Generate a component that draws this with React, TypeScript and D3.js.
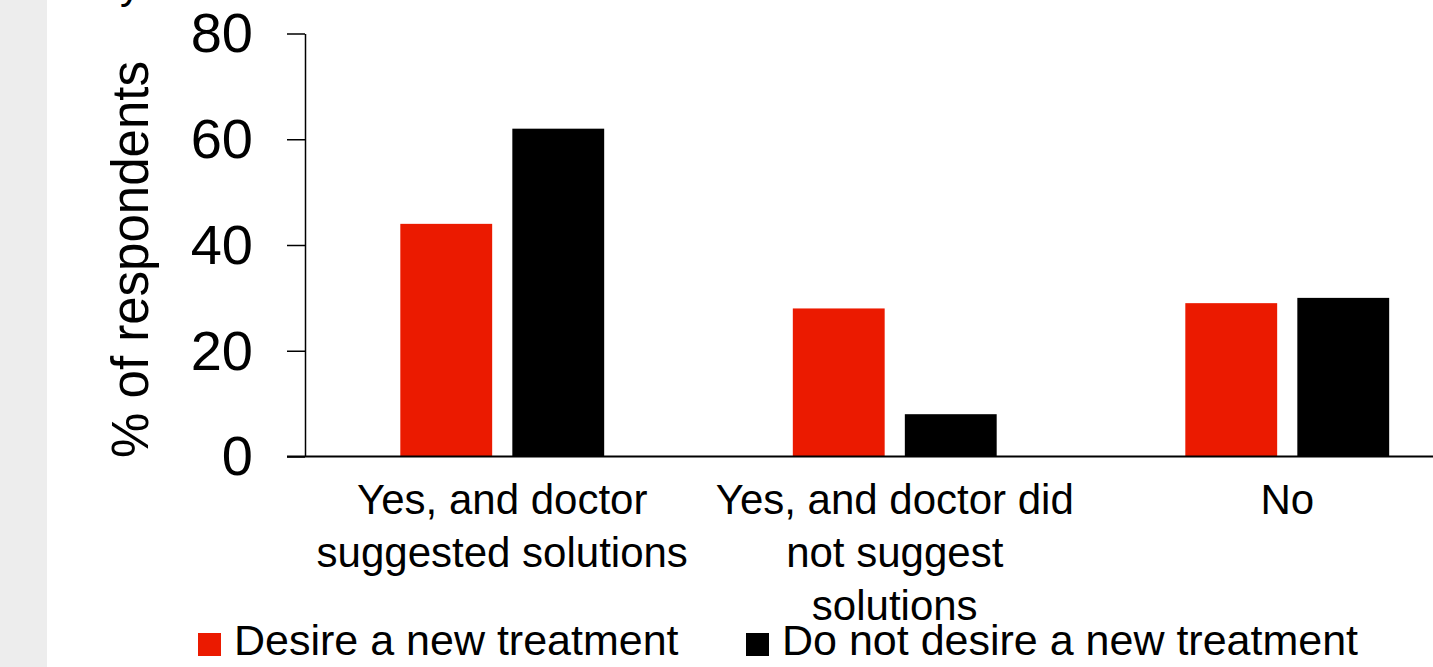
import React, { useEffect, useRef } from 'react';
import * as d3 from 'd3';

// chart data
const categories = [
  'Yes, and doctor suggested solutions',
  'Yes, and doctor did not suggest solutions',
  'No',
];
const categoryLines = [
  ['Yes, and doctor', 'suggested solutions'],
  ['Yes, and doctor did', 'not suggest', 'solutions'],
  ['No'],
];
const seriesNames = ['Desire a new treatment', 'Do not desire a new treatment'];
const desireValues = [44, 28, 29];
const noDesireValues = [62, 8, 30];
const yTicks = [0, 20, 40, 60, 80];

const colors = ['#eb1a00', '#000000'];
const FONT = '"Liberation Sans", Arial, sans-serif';

function App() {
  const ref = useRef<SVGSVGElement>(null);

  useEffect(() => {
    if (!ref.current) return;
    const svg = d3.select(ref.current);
    svg.selectAll('*').remove();

    const W = 1433;
    const H = 667;

    // background + grey strip on the left
    svg.append('rect').attr('width', W).attr('height', H).attr('fill', '#ffffff');
    svg.append('rect').attr('width', 47).attr('height', H).attr('fill', '#ededed');

    const x0 = d3.scaleBand<string>().domain(categories).range([306, 1483.5]).padding(0);
    const x1 = d3
      .scaleBand<string>()
      .domain(seriesNames)
      .range([0, x0.bandwidth()])
      .paddingInner(0.18)
      .paddingOuter(0.842);
    const y = d3.scaleLinear().domain([0, 80]).range([456.5, 33.5]);

    // cropped title remnant at the very top
    svg
      .append('text')
      .attr('x', 120)
      .attr('y', -2)
      .style('font-family', FONT)
      .style('font-size', '42px')
      .text('y');

    // bars
    const rows = categories.map((c, i) => ({
      cat: c,
      vals: [desireValues[i], noDesireValues[i]],
    }));
    const groups = svg
      .append('g')
      .selectAll('g')
      .data(rows)
      .enter()
      .append('g')
      .attr('transform', (d) => `translate(${x0(d.cat)},0)`);
    groups
      .selectAll('rect')
      .data((d) => d.vals.map((v, j) => ({ v, s: seriesNames[j], j })))
      .enter()
      .append('rect')
      .attr('x', (d) => x1(d.s)!)
      .attr('width', x1.bandwidth())
      .attr('y', (d) => y(d.v))
      .attr('height', (d) => y(0) - y(d.v))
      .attr('fill', (d) => colors[d.j]);

    // y axis
    const yAxis = svg
      .append('g')
      .attr('transform', 'translate(305,0)')
      .call(d3.axisLeft(y).tickValues(yTicks).tickSize(18).tickPadding(34).tickSizeOuter(0));
    yAxis.select('.domain').attr('stroke', '#000').attr('stroke-width', 1.5);
    yAxis.selectAll('.tick line').attr('stroke', '#000').attr('stroke-width', 1.5);
    yAxis
      .selectAll('.tick text')
      .style('font-family', FONT)
      .style('font-size', '56px')
      .attr('fill', '#000')
      .attr('dy', '0.33em');

    // x axis line
    svg
      .append('line')
      .attr('x1', 287)
      .attr('x2', W)
      .attr('y1', y(0))
      .attr('y2', y(0))
      .attr('stroke', '#000')
      .attr('stroke-width', 2);

    // category labels
    const labels = svg
      .append('g')
      .selectAll('text')
      .data(categories)
      .enter()
      .append('text')
      .attr('text-anchor', 'middle')
      .attr('x', (d) => x0(d)! + x0.bandwidth() / 2)
      .attr('y', 514)
      .style('font-family', FONT)
      .style('font-size', '42px')
      .attr('fill', '#000');
    labels.each(function (d, i) {
      const t = d3.select(this);
      const cx = x0(d)! + x0.bandwidth() / 2;
      categoryLines[i].forEach((line, k) => {
        t.append('tspan').attr('x', cx).attr('y', 514 + k * 53).text(line);
      });
    });

    // y title
    svg
      .append('text')
      .attr('transform', `translate(148,${259.5}) rotate(-90)`)
      .attr('text-anchor', 'middle')
      .style('font-family', FONT)
      .style('font-size', '51px')
      .attr('fill', '#000')
      .text('% of respondents');

    // legend
    const legendX = [198, 746];
    const legend = svg
      .append('g')
      .selectAll('g')
      .data(seriesNames)
      .enter()
      .append('g')
      .attr('transform', (_, i) => `translate(${legendX[i]},0)`);
    legend
      .append('rect')
      .attr('x', 0)
      .attr('y', 633)
      .attr('width', 23)
      .attr('height', 23)
      .attr('fill', (_, i) => colors[i]);
    legend
      .append('text')
      .attr('x', 36)
      .attr('y', 655)
      .style('font-family', FONT)
      .style('font-size', '43px')
      .attr('fill', '#000')
      .text((d) => d);
  }, []);

  return (
    <svg
      ref={ref}
      width={1433}
      height={667}
      style={{ position: 'absolute', left: 0, top: 0, display: 'block' }}
    />
  );
}

export default App;
